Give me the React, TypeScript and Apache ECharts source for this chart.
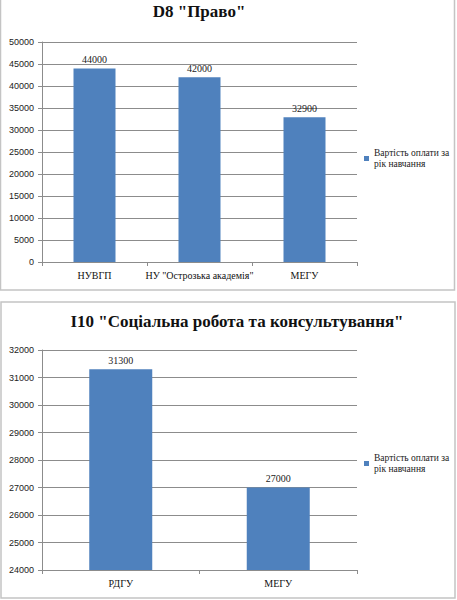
import React, { useEffect, useRef } from "react";
import * as echarts from "echarts";

const seriesName = "Вартість оплати за рік навчання";
const title1 = 'D8 "Право"';
const cats1 = ["НУВГП", 'НУ "Острозька академія"', "МЕГУ"];
const vals1 = [44000, 42000, 32900];
const title2 = 'I10 "Соціальна робота та консультування"';
const cats2 = ["РДГУ", "МЕГУ"];
const vals2 = [31300, 27000];

const serif = "Liberation Serif";
const sans = "Liberation Sans";
const barColor = "#4f81bd";
const gridColor = "#8c8c8c";

export default function App() {
  const ref = useRef<HTMLDivElement>(null);
  useEffect(() => {
    if (!ref.current) return;
    const chart = echarts.init(ref.current, null, { renderer: "svg" });
    const xAxisBase = (idx: number, data: string[]) => ({
      type: "category",
      gridIndex: idx,
      data,
      axisLine: { show: true, lineStyle: { color: gridColor, width: 1 } },
      axisTick: { show: true, length: 4, lineStyle: { color: gridColor } },
      axisLabel: { fontFamily: serif, fontSize: 10, color: "#111", margin: 8, interval: 0 },
      splitLine: { show: false },
    });
    const yAxisBase = (idx: number, min: number, max: number, interval: number) => ({
      type: "value",
      gridIndex: idx,
      min,
      max,
      interval,
      axisLine: { show: true, lineStyle: { color: gridColor, width: 1 } },
      axisTick: { show: true, length: 4, lineStyle: { color: gridColor } },
      axisLabel: {
        fontFamily: sans,
        fontSize: 9,
        color: "#222",
        margin: 8,
        formatter: (v: number) => String(v),
      },
      splitLine: { show: true, lineStyle: { color: gridColor, width: 1 } },
    });
    const legendBase = (top: number) => ({
      orient: "vertical",
      left: 359,
      top,
      icon: "rect",
      itemWidth: 5,
      itemHeight: 5,
      itemGap: 2,
      data: [seriesName],
      formatter: () => "Вартість оплати за\nрік навчання",
      textStyle: {
        fontFamily: serif,
        fontSize: 9.5,
        color: "#222",
        lineHeight: 11,
        padding: [11, 0, 0, 0],
      },
    });
    chart.setOption({
      animation: false,
      backgroundColor: "#ffffff",
      textStyle: { fontFamily: serif },
      title: [
        {
          text: title1,
          left: 194,
          top: -2,
          textAlign: "center",
          textStyle: { fontFamily: serif, fontSize: 17, fontWeight: "bold", color: "#111" },
        },
        {
          text: title2,
          left: 232,
          top: 308,
          textAlign: "center",
          textStyle: { fontFamily: serif, fontSize: 17, fontWeight: "bold", color: "#111" },
        },
      ],
      legend: [legendBase(137), legendBase(442)],
      grid: [
        { left: 42, top: 42, width: 315, height: 220 },
        { left: 42, top: 350, width: 315, height: 220 },
      ],
      xAxis: [xAxisBase(0, cats1), xAxisBase(1, cats2)],
      yAxis: [yAxisBase(0, 0, 50000, 5000), yAxisBase(1, 24000, 32000, 1000)],
      graphic: [
        {
          type: "rect",
          shape: { x: 0.5, y: -5, width: 454, height: 295 },
          style: { fill: "none", stroke: "#c4c4c4", lineWidth: 1.5 },
          silent: true,
        },
        {
          type: "rect",
          shape: { x: 1, y: 302, width: 454, height: 296 },
          style: { fill: "none", stroke: "#c4c4c4", lineWidth: 1.5 },
          silent: true,
        },
      ],
      series: [vals1, vals2].map((vals, i) => ({
        type: "bar",
        name: seriesName,
        xAxisIndex: i,
        yAxisIndex: i,
        data: vals,
        barWidth: "40%",
        itemStyle: { color: barColor },
        label: {
          show: true,
          position: "top",
          distance: 4,
          fontFamily: serif,
          fontSize: 10,
          color: "#222",
        },
      })),
    });
    return () => chart.dispose();
  }, []);
  return (
    <div
      ref={ref}
      style={{ position: "fixed", left: 0, top: 0, width: 457, height: 600, background: "#fff" }}
    />
  );
}
